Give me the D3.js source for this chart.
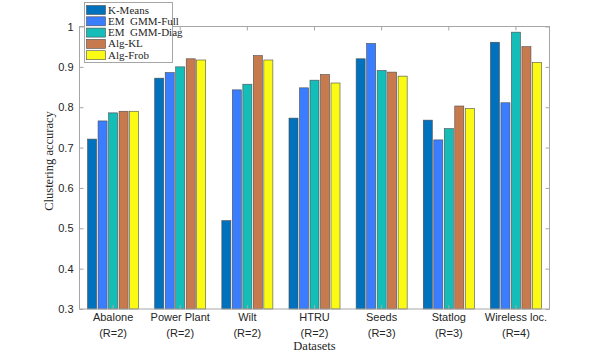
<!DOCTYPE html>
<html><head><meta charset="utf-8">
<script src="https://cdn.jsdelivr.net/npm/d3@7"></script>
<style>body{margin:0;background:#fff}svg{display:block}</style>
</head><body>
<svg id="c" width="607" height="354"></svg>
<script>
const categories = ["Abalone","Power Plant","Wilt","HTRU","Seeds","Statlog","Wireless loc."];
const subLabels = ["(R=2)","(R=2)","(R=2)","(R=2)","(R=3)","(R=3)","(R=4)"];
const seriesNames = ["K-Means","EM  GMM-Full","EM  GMM-Diag","Alg-KL","Alg-Frob"];
const kmeans  = [0.721,0.872,0.519,0.773,0.920,0.768,0.961];
const emFull  = [0.766,0.886,0.843,0.848,0.958,0.719,0.811];
const emDiag  = [0.786,0.900,0.857,0.867,0.891,0.747,0.986];
const algKL   = [0.790,0.920,0.928,0.881,0.887,0.803,0.950];
const algFrob = [0.790,0.917,0.917,0.860,0.877,0.797,0.911];
const colors  = ["#0072bd","#3a7dff","#14bdb8","#c87a4f","#fafa14"];
const yTicks  = [0.3,0.4,0.5,0.6,0.7,0.8,0.9,1];
const series = [kmeans,emFull,emDiag,algKL,algFrob];

const svg = d3.select("#c");
const L=79.5, R=549.5, T=26.5, B=309;
const x = d3.scaleBand().domain(categories).range([L,R]).padding(0);
const y = d3.scaleLinear().domain([0.3,1]).range([B,T]);
const inner = d3.scaleBand().domain(d3.range(5)).range([0, x.bandwidth()*0.76]).paddingInner(0.14);
const off = x.bandwidth()*0.12;
const axisCol = "#a6a6a6";

// bars
series.forEach((s,si)=>{
  svg.append("g").selectAll("rect").data(s).join("rect")
    .attr("x",(d,i)=>x(categories[i])+off+inner(si))
    .attr("y",d=>y(d))
    .attr("width",inner.bandwidth())
    .attr("height",d=>B-y(d))
    .attr("fill",colors[si])
    .attr("stroke","#4d4d4d").attr("stroke-width",0.6);
});

// box
svg.append("rect").attr("x",L).attr("y",T).attr("width",R-L).attr("height",B-T)
  .attr("fill","none").attr("stroke",axisCol).attr("stroke-width",1);

// axes
const yl = svg.append("g").attr("transform",`translate(${L},0)`)
  .call(d3.axisLeft(y).tickValues(yTicks).tickSize(-4).tickPadding(6).tickFormat(d=>d===1?"1":d3.format(".1f")(d)));
const yr = svg.append("g").attr("transform",`translate(${R},0)`)
  .call(d3.axisRight(y).tickValues(yTicks).tickSize(-4).tickFormat(""));
const xb = svg.append("g").attr("transform",`translate(0,${B})`)
  .call(d3.axisBottom(x).tickSize(-4).tickFormat(""));
const xt = svg.append("g").attr("transform",`translate(0,${T})`)
  .call(d3.axisTop(x).tickSize(-4).tickFormat(""));
[yl,yr,xb,xt].forEach(g=>{
  g.select(".domain").remove();
  g.selectAll("line").attr("stroke",axisCol);
});
yl.selectAll("text").attr("font-family","Liberation Sans, Arial, sans-serif").attr("font-size",11).attr("fill","#262626");

// category labels
const cl = svg.append("g");
categories.forEach((c,i)=>{
  const cx = x(c)+x.bandwidth()/2;
  cl.append("text").attr("x",cx).attr("y",321).attr("text-anchor","middle")
    .attr("font-family","Liberation Sans, Arial, sans-serif").attr("font-size",11).attr("fill","#262626").text(c);
  cl.append("text").attr("x",cx).attr("y",337).attr("text-anchor","middle")
    .attr("font-family","Liberation Sans, Arial, sans-serif").attr("font-size",11).attr("fill","#262626").text(subLabels[i]);
});

// axis titles
svg.append("text").attr("x",(L+R)/2).attr("y",350).attr("text-anchor","middle")
  .attr("font-family","Liberation Serif, Times New Roman, serif").attr("font-size",12.5).attr("fill","#262626").text("Datasets");
svg.append("text").attr("transform",`translate(53,161) rotate(-90)`).attr("text-anchor","middle")
  .attr("font-family","Liberation Serif, Times New Roman, serif").attr("font-size",12.5).attr("fill","#262626").text("Clustering accuracy");

// legend
const lg = svg.append("g");
lg.append("rect").attr("x",84.5).attr("y",2.5).attr("width",88).attr("height",60)
  .attr("fill","#fff").attr("stroke",axisCol).attr("stroke-width",1);
seriesNames.forEach((n,i)=>{
  const cy = 10 + i*11.3;
  lg.append("rect").attr("x",86.5).attr("y",cy-4.5).attr("width",19).attr("height",9)
    .attr("fill",colors[i]).attr("stroke","#4d4d4d").attr("stroke-width",0.6);
  lg.append("text").attr("x",108).attr("y",cy+3.5).attr("xml:space","preserve")
    .attr("font-family","Liberation Serif, Times New Roman, serif").attr("font-size",11).attr("fill","#262626").text(n);
});
</script>
</body></html>
